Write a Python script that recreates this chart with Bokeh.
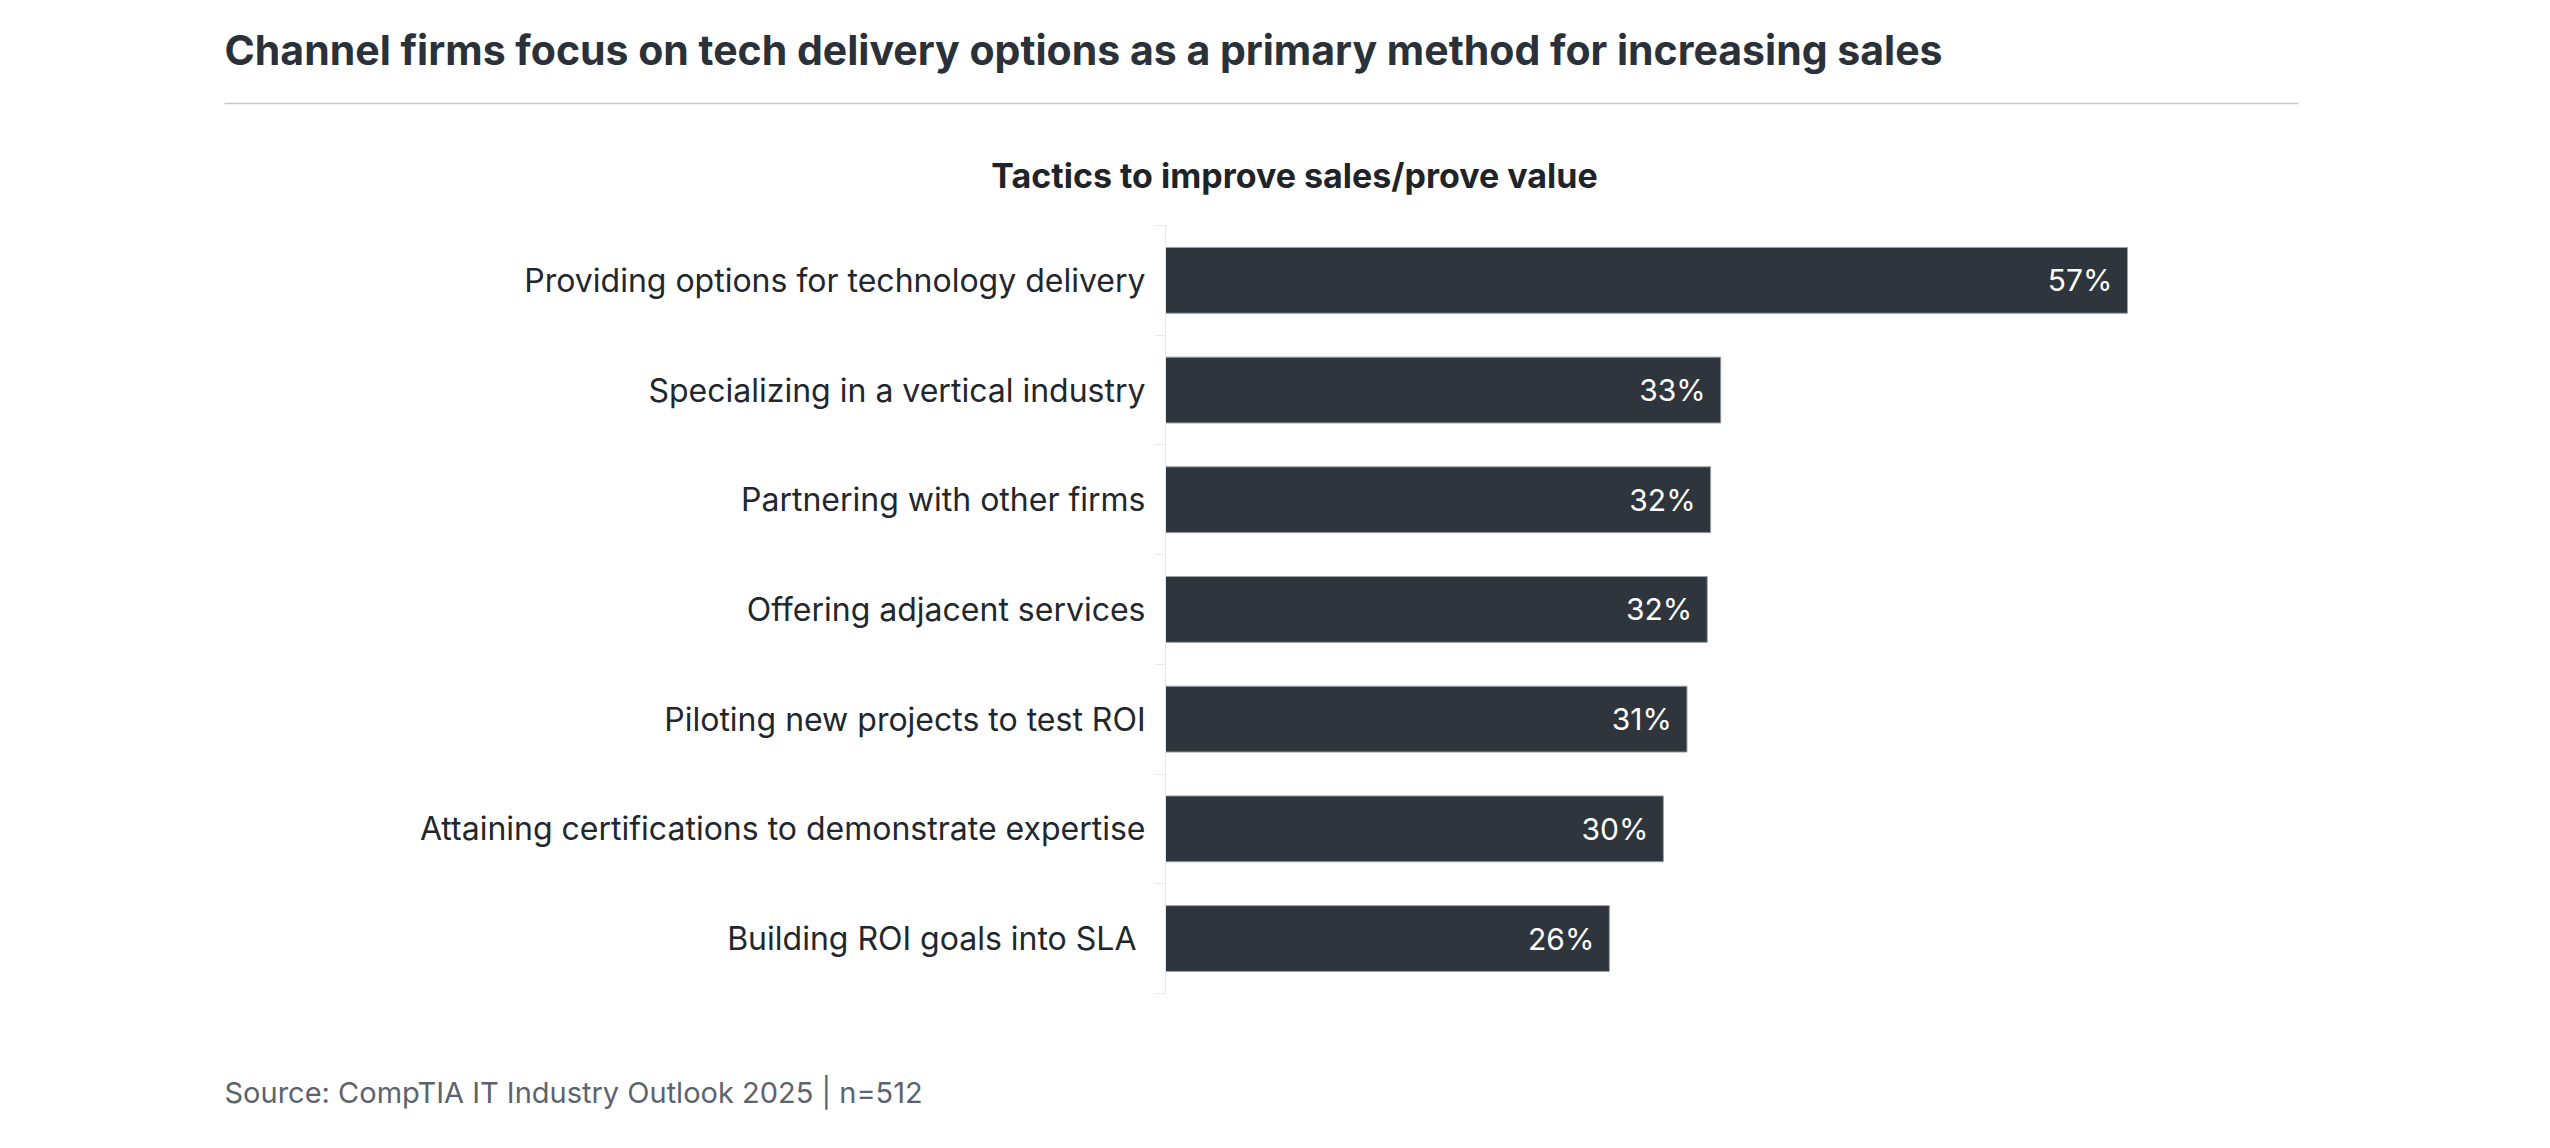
from bokeh.plotting import figure
from bokeh.models import ColumnDataSource, Range1d, LinearAxis, FixedTicker, Label
from bokeh.core.properties import value
from bokeh.embed import file_html
from bokeh.resources import INLINE

# ---- data ----
categories = [
    "Providing options for technology delivery",
    "Specializing in a vertical industry",
    "Partnering with other firms",
    "Offering adjacent services",
    "Piloting new projects to test ROI",
    "Attaining certifications to demonstrate expertise",
    "Building ROI goals into SLA ",
]
# bar lengths (labels show the rounded figures)
values = [57.0, 32.9, 32.3, 32.1, 30.9, 29.5, 26.3]
value_labels = ["57%", "33%", "32%", "32%", "31%", "30%", "26%"]

title_text = "Channel firms focus on tech delivery options as a primary method for increasing sales"
subtitle_text = "Tactics to improve sales/prove value"
source_text = "Source: CompTIA IT Industry Outlook 2025 | n=512"

n = len(categories)
ypos = [n - 0.5 - i for i in range(n)]

FONT = "Inter"
BAR = "#2e353d"
W, H = 2550, 1148

# layout geometry (pixels on the canvas)
AX_X = 1165          # where value 0 sits
PX_PER_PCT = 16.877  # horizontal scale
TOP_Y = 225          # top of first category band
BAND = 109.7         # category band height


def dx(px):
    return (px - AX_X) / PX_PER_PCT


def dy(py):
    return n - (py - TOP_Y) / BAND


src = ColumnDataSource(dict(y=ypos, v=values, lab=value_labels))

p = figure(width=W, height=H, output_backend="svg", toolbar_location=None,
           x_range=Range1d(dx(0), dx(W)), y_range=Range1d(dy(H), dy(0)),
           min_border=0, x_axis_location=None, y_axis_location=None)
p.outline_line_color = None
p.grid.visible = False
p.background_fill_color = "white"
p.border_fill_color = "white"

p.hbar(y="y", right="v", left=0, height=0.6, source=src,
       fill_color=BAR, line_color="#9aa0a6", line_width=1)

p.text(x="v", y="y", text="lab", source=src, x_offset=-15,
       text_align="right", text_baseline="middle", text_color="white",
       text_font=value(FONT), text_font_size="30px")

yaxis = LinearAxis(ticker=FixedTicker(ticks=ypos, minor_ticks=list(range(n + 1))),
                   fixed_location=0, bounds=(0, n))
yaxis.major_label_overrides = {float(y): c for y, c in zip(ypos, categories)}
yaxis.major_tick_out = 0
yaxis.major_tick_in = 0
yaxis.minor_tick_out = 10
yaxis.minor_tick_in = 0
yaxis.minor_tick_line_color = "#e3e7ec"
yaxis.axis_line_color = "#e3e7ec"
yaxis.major_label_standoff = 10
yaxis.major_label_text_font = FONT
yaxis.major_label_text_font_size = "32px"
yaxis.major_label_text_color = "#22272d"
p.add_layout(yaxis, "left")

# titles, separator, source
p.add_layout(Label(x=dx(224), y=dy(49), text=title_text, text_font=FONT,
                   text_font_size="41px", text_font_style="bold",
                   text_color="#2b3139", text_baseline="alphabetic",
                   text_align="left"))
p.segment(x0=[dx(224)], y0=[dy(103)], x1=[dx(2298)], y1=[dy(103)],
          line_color="#c4c7cb", line_width=1.5)
p.add_layout(Label(x=dx(1294), y=dy(175), text=subtitle_text, text_font=FONT,
                   text_font_size="34px", text_font_style="bold",
                   text_color="#1f2429", text_baseline="alphabetic",
                   text_align="center"))
p.add_layout(Label(x=dx(224), y=dy(1092), text=source_text, text_font=FONT,
                   text_font_size="29px", text_color="#5b646e",
                   text_baseline="alphabetic", text_align="left"))

open("out.html", "w").write(file_html(p, INLINE))
